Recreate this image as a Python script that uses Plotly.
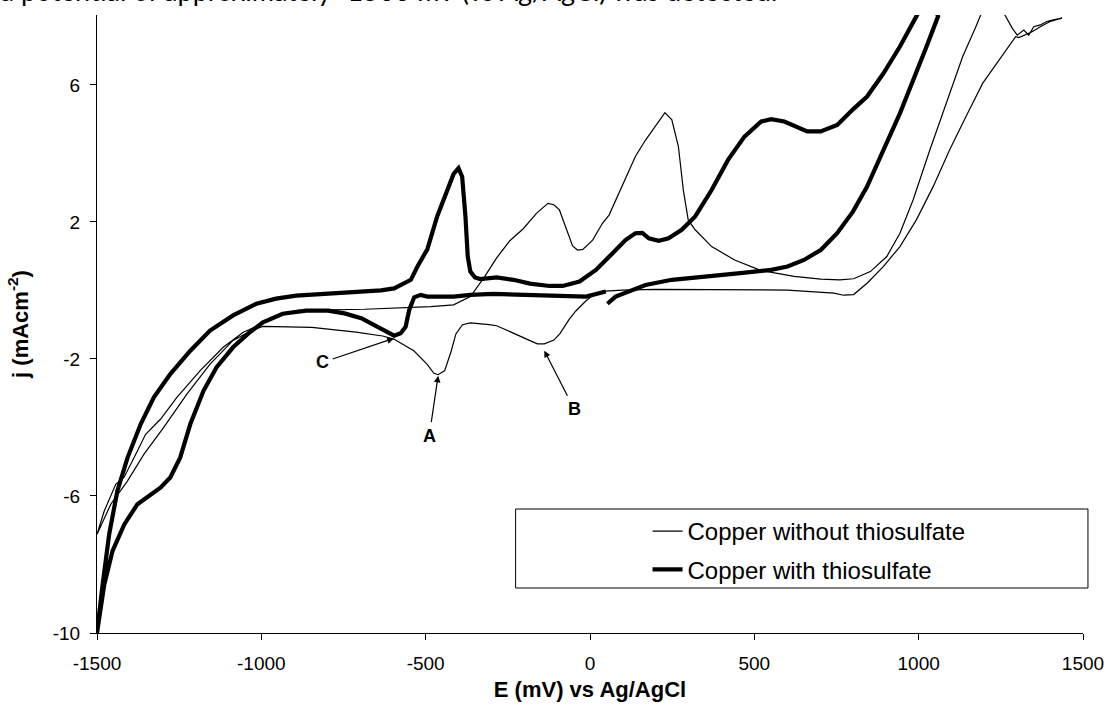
import plotly.graph_objects as go

# Copper without thiosulfate (thin curve), one sweep path E (mV) / j (mA cm-2)
e_without = [-1500, -1478, -1443, -1418, -1387, -1352, -1307, -1257, -1186, -1116,
             -1055, -1015, -980, -940, -887, -686, -485, -415, -364, -324,
             -284, -244, -203, -163, -128, -110, -93, -73, -53, -38,
             -22, 8, 38, 58, 98, 138, 169, 199, 215, 228,
             249, 269, 284, 299, 320, 370, 440, 521, 621, 702,
             760, 802, 853, 903, 943, 983, 1034, 1084, 1134, 1174,
             1200, 1230, 1262, 1285, 1300, 1320, 1335, 1350, 1370, 1390,
             1410, 1436, 1400, 1370, 1345, 1320, 1305, 1295, 1245, 1195,
             1144, 1094, 1044, 993, 943, 893, 843, 802, 772, 742,
             601, 400, 199, 98, 48, 8, -12, -43, -63, -92,
             -110, -139, -160, -186, -240, -284, -307, -364, -388, -408,
             -422, -442, -462, -475, -496, -536, -597, -631, -712, -846,
             -995, -1025, -1086, -1156, -1226, -1297, -1357, -1407, -1458, -1500]
j_without = [-7.12, -6.44, -5.66, -5.46, -4.88, -4.20, -3.76, -3.12, -2.34, -1.66,
             -1.22, -1.05, -0.85, -0.68, -0.58, -0.55, -0.47, -0.42, -0.18, 0.35,
             0.95, 1.45, 1.80, 2.25, 2.54, 2.50, 2.35, 1.82, 1.30, 1.18,
             1.20, 1.47, 1.96, 2.20, 3.03, 3.91, 4.39, 4.78, 5.00, 5.19,
             4.98, 4.20, 2.93, 2.05, 1.77, 1.28, 0.89, 0.58, 0.41, 0.33,
             0.31, 0.34, 0.55, 0.99, 1.67, 2.64, 4.10, 5.46, 6.83, 7.70,
             8.30, 8.60, 8.05, 7.65, 7.45, 7.60, 7.45, 7.70, 7.75, 7.85,
             7.90, 7.95, 7.85, 7.70, 7.55, 7.45, 7.38, 7.41, 6.73, 6.05,
             5.08, 4.10, 3.03, 2.06, 1.28, 0.70, 0.21, -0.12, -0.14, -0.08,
             0.01, 0.03, 0.03, 0.01, -0.02, -0.15, -0.30, -0.60, -0.84, -1.27,
             -1.45, -1.56, -1.56, -1.45, -1.22, -1.03, -1.00, -0.95, -1.00, -1.27,
             -1.76, -2.34, -2.46, -2.42, -2.15, -1.76, -1.42, -1.33, -1.22, -1.08,
             -1.05, -1.15, -1.46, -2.15, -3.02, -4.00, -4.78, -5.56, -6.24, -7.12]

# Copper with thiosulfate (thick curve)
e_with = [48, -12, -93, -193, -294, -364, -415, -495, -515, -535,
          -550, -561, -576, -596, -646, -696, -747, -797, -864, -935,
          -995, -1035, -1086, -1136, -1176, -1216, -1247, -1277, -1307, -1337,
          -1377, -1417, -1453, -1478, -1500, -1483, -1463, -1438, -1407, -1367,
          -1327, -1277, -1216, -1156, -1086, -1015, -955, -894, -814, -713,
          -636, -596, -565, -545, -525, -495, -465, -435, -415, -400,
          -389, -379, -372, -364, -350, -334, -284, -233, -183, -123,
          -83, -32, 18, 68, 108, 138, 159, 179, 209, 239,
          279, 320, 370, 420, 470, 521, 551, 591, 621, 661,
          702, 752, 802, 843, 893, 943, 993, 1015, 1040, 1059,
          1024, 983, 943, 893, 843, 800, 752, 702, 651, 601,
          551, 450, 350, 249, 169, 118, 78, 53]
j_with = [-0.03, -0.18, -0.16, -0.13, -0.10, -0.13, -0.18, -0.18, -0.13, -0.20,
          -0.57, -1.06, -1.25, -1.32, -1.06, -0.81, -0.67, -0.59, -0.59, -0.68,
          -0.93, -1.22, -1.66, -2.24, -2.93, -3.90, -4.88, -5.46, -5.76, -5.95,
          -6.24, -6.83, -7.61, -8.59, -10.0, -8.59, -7.12, -5.85, -4.88, -3.90,
          -3.12, -2.44, -1.76, -1.17, -0.73, -0.39, -0.24, -0.15, -0.10, -0.05,
          0.00, 0.06, 0.20, 0.31, 0.70, 1.20, 2.16, 2.93, 3.40, 3.57,
          3.32, 2.16, 0.99, 0.55, 0.38, 0.33, 0.38, 0.31, 0.20, 0.13,
          0.13, 0.26, 0.60, 1.08, 1.47, 1.67, 1.68, 1.52, 1.45, 1.52,
          1.77, 2.16, 2.93, 3.81, 4.49, 4.93, 5.00, 4.93, 4.80, 4.64,
          4.64, 4.83, 5.30, 5.66, 6.34, 7.12, 8.00, 8.40, 8.50, 8.00,
          7.12, 6.15, 5.17, 4.10, 3.03, 2.30, 1.67, 1.18, 0.89, 0.70,
          0.60, 0.50, 0.40, 0.31, 0.16, -0.03, -0.18, -0.39]

# axis ticks
x_ticks = [-1500, -1000, -500, 0, 500, 1000, 1500]
y_ticks = [-10, -6, -2, 2, 6]

# peak labels: text, label position, arrow tip
peak_labels = ['A', 'B', 'C']
label_e = [-489, -48, -813]
label_j = [-4.24, -3.46, -2.10]
tip_e = [-462, -139, -597]
tip_j = [-2.49, -1.76, -1.40]

FONT = 'Liberation Sans, Arial, sans-serif'

fig = go.Figure()

fig.add_trace(go.Scatter(
    x=e_without, y=j_without,
    mode='lines',
    name='Copper without thiosulfate',
    legendgroup='a',
    line=dict(color='black', width=1.2)
))

fig.add_trace(go.Scatter(
    x=e_with, y=j_with,
    mode='lines',
    name='Copper with thiosulfate',
    legendgroup='b',
    line=dict(color='black', width=4.2)
))

for txt, lx, ly, tx, ty in zip(peak_labels, label_e, label_j, tip_e, tip_j):
    fig.add_annotation(
        x=tx, y=ty, ax=lx, ay=ly,
        xref='x', yref='y', axref='x', ayref='y',
        text=f'<b>{txt}</b>',
        showarrow=True, arrowhead=2, arrowsize=1.1, arrowwidth=1.2,
        arrowcolor='black', standoff=0, startstandoff=2,
        font=dict(family=FONT, size=18, color='black')
    )

# legend frame
fig.add_shape(
    type='rect', xref='paper', yref='paper',
    x0=(519 - 97) / 994, x1=(1096 - 97) / 994,
    y0=(633 - 588) / 618, y1=(633 - 509) / 618,
    line=dict(color='black', width=1), fillcolor='white', layer='above'
)

# cut-off line of the surrounding page text
fig.add_annotation(
    xref='paper', yref='paper', x=(785 - 97) / 994, y=1,
    xanchor='right', yanchor='bottom', yshift=6,
    text='current at a potential of approximately -1500 mV (vs Ag/AgCl) was detected.',
    showarrow=False,
    font=dict(family='Lato, sans-serif', size=27, color='black')
)

fig.update_layout(
    width=1116, height=713,
    margin=dict(l=97, r=25, t=15, b=80),
    paper_bgcolor='white', plot_bgcolor='white',
    font=dict(family=FONT, size=19, color='black'),
    showlegend=True,
    legend=dict(
        x=(652 - 97) / 994, y=(633 - 509) / 618,
        xanchor='left', yanchor='top',
        bgcolor='rgba(0,0,0,0)', borderwidth=0,
        font=dict(family=FONT, size=24, color='black'),
        tracegroupgap=4, itemwidth=30
    ),
    xaxis=dict(
        range=[-1500, 1500],
        tickvals=x_ticks, ticktext=[str(v) for v in x_ticks],
        showline=True, linecolor='black', linewidth=1,
        ticks='outside', ticklen=6, tickcolor='black',
        showgrid=False, zeroline=False, mirror=False,
        ticklabelstandoff=7,
        title=dict(text='<b>E (mV) vs Ag/AgCl</b>', standoff=8,
                   font=dict(family=FONT, size=22))
    ),
    yaxis=dict(
        range=[-10, 8.04],
        tickvals=y_ticks, ticktext=[str(v) for v in y_ticks],
        showline=True, linecolor='black', linewidth=1,
        ticks='outside', ticklen=6, tickcolor='black',
        showgrid=False, zeroline=False, mirror=False,
        ticklabelstandoff=6,
        title=dict(text='<b>j (mAcm<sup>-2</sup>)</b>', standoff=18,
                   font=dict(family=FONT, size=22))
    )
)

# the page body has a default 8px margin; drop it so the figure sits at 0,0
fig.write_html('out.html', config={'displayModeBar': False},
               post_script="document.body.style.margin='0';")
